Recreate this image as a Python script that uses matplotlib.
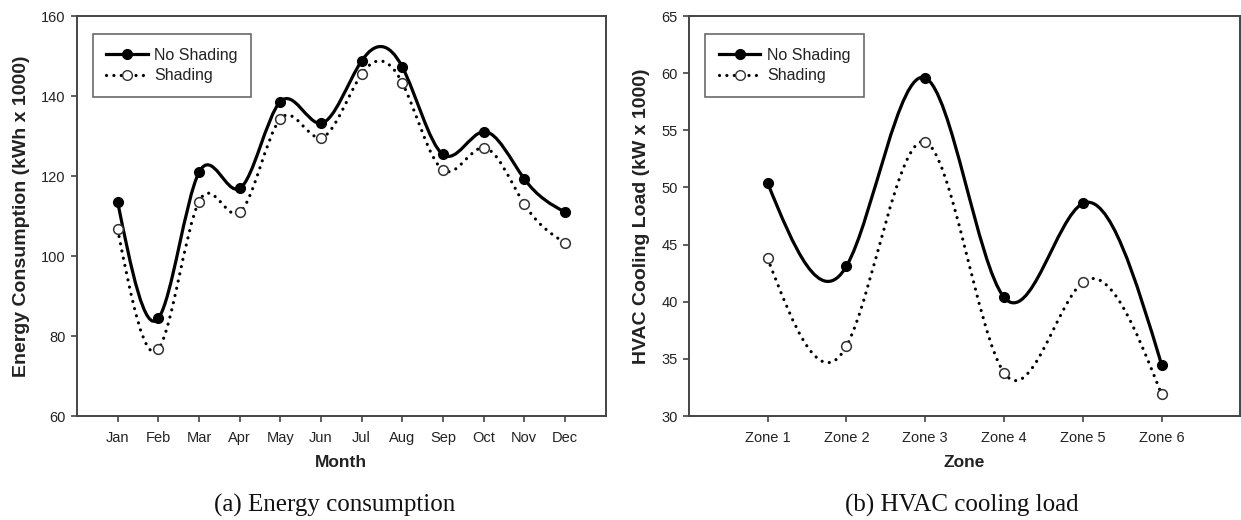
import numpy as np
import matplotlib
matplotlib.use("Agg")
import matplotlib.pyplot as plt
from matplotlib.path import Path
from matplotlib.patches import PathPatch
from matplotlib.lines import Line2D

# ============================================================
# Data
# ============================================================
months = ["Jan", "Feb", "Mar", "Apr", "May", "Jun",
          "Jul", "Aug", "Sep", "Oct", "Nov", "Dec"]
energy_no_shading = [113.6, 84.4, 120.9, 116.9, 138.6, 133.2,
                     148.8, 147.3, 125.4, 131.1, 119.3, 111.0]
energy_shading = [106.7, 76.7, 113.6, 110.9, 134.3, 129.6,
                  145.5, 143.3, 121.5, 127.1, 113.0, 103.3]

zones = ["Zone 1", "Zone 2", "Zone 3", "Zone 4", "Zone 5", "Zone 6"]
hvac_no_shading = [50.4, 43.1, 59.6, 40.4, 48.6, 34.5]
hvac_shading = [43.8, 36.1, 54.0, 33.8, 41.7, 31.9]

INK = "#222222"
SPINE = "#444444"
DOTS = (0, (0.01, 2.3))

plt.rcParams.update({
    "font.family": ["Liberation Sans", "DejaVu Sans"],
    "text.color": INK,
    "axes.labelcolor": INK,
    "xtick.color": SPINE,
    "ytick.color": SPINE,
    "xtick.labelcolor": INK,
    "ytick.labelcolor": INK,
})


# ------------------------------------------------------------
# Smooth curve through the points: natural cubic spline drawn
# as bezier segments (like the original plotting tool)
# ------------------------------------------------------------
def spline_path(x, y):
    x = np.asarray(x, float)
    y = np.asarray(y, float)
    n = len(x)
    h = np.diff(x)
    A = np.zeros((n, n))
    b = np.zeros(n)
    A[0, 0] = A[-1, -1] = 1.0
    for i in range(1, n - 1):
        A[i, i - 1] = h[i - 1]
        A[i, i] = 2 * (h[i - 1] + h[i])
        A[i, i + 1] = h[i]
        b[i] = 6 * ((y[i + 1] - y[i]) / h[i] - (y[i] - y[i - 1]) / h[i - 1])
    M = np.linalg.solve(A, b)
    m = np.zeros(n)
    for i in range(n - 1):
        m[i] = (y[i + 1] - y[i]) / h[i] - h[i] * (2 * M[i] + M[i + 1]) / 6
    m[-1] = (y[-1] - y[-2]) / h[-1] + h[-1] * (M[-2] + 2 * M[-1]) / 6

    verts = [(x[0], y[0])]
    codes = [Path.MOVETO]
    for i in range(n - 1):
        d = h[i] / 3
        verts += [(x[i] + d, y[i] + m[i] * d),
                  (x[i + 1] - d, y[i + 1] - m[i + 1] * d),
                  (x[i + 1], y[i + 1])]
        codes += [Path.CURVE4] * 3
    return Path(verts, codes)


def draw_panel(ax, labels, y_no, y_sh, ylim, yticks, xlabel, ylabel):
    x = np.arange(1, len(labels) + 1)

    ax.add_patch(PathPatch(spline_path(x, y_sh), fill=False, color="black",
                           lw=2.3, linestyle=DOTS, capstyle="round",
                           zorder=2))
    ax.add_patch(PathPatch(spline_path(x, y_no), fill=False, color="black",
                           lw=2.3, zorder=3))
    ax.plot(x, y_sh, "o", ms=7, mfc="white", mec="#333333", mew=1.1,
            linestyle="none", zorder=4)
    ax.plot(x, y_no, "o", ms=7, mfc="black", mec="black",
            linestyle="none", zorder=5)

    ax.set_xlim(0, len(labels) + 1)
    ax.set_ylim(*ylim)
    ax.set_xticks(x)
    ax.set_xticklabels(labels)
    ax.set_yticks(yticks)
    ax.tick_params(direction="out", length=4, width=1.2, labelsize=10.5,
                   pad=4)
    ax.tick_params(axis="x", pad=7)
    for sp in ax.spines.values():
        sp.set_color(SPINE)
        sp.set_linewidth(1.4)

    ax.set_xlabel(xlabel, fontsize=12.5, fontweight="bold", labelpad=7)
    ax.set_ylabel(ylabel, fontsize=14, fontweight="bold", labelpad=8)

    handles = [
        Line2D([], [], color="black", lw=2.3, marker="o", ms=7,
               mfc="black"),
        Line2D([], [], color="black", lw=2.3, linestyle=DOTS,
               dash_capstyle="round", marker="o", ms=7, mfc="white",
               mec="#333333"),
    ]
    leg = ax.legend(handles, ["No Shading", "Shading"], loc="upper left",
                    bbox_to_anchor=(0.03, 0.955), fontsize=11.5,
                    frameon=True, fancybox=False, edgecolor=SPINE,
                    handlelength=2.6, handletextpad=0.4,
                    borderpad=0.85, labelspacing=0.35, borderaxespad=0)
    leg.get_frame().set_linewidth(1.2)


# ============================================================
# Figure layout
# ============================================================
fig = plt.figure(figsize=(12.41, 5.20), dpi=100, facecolor="white")
ax1 = fig.add_axes([0.062, 0.200, 0.426, 0.769])
ax2 = fig.add_axes([0.555, 0.200, 0.4445, 0.769])

draw_panel(ax1, months, energy_no_shading, energy_shading,
           (60, 160), np.arange(60, 161, 20), "Month",
           "Energy Consumption (kWh x 1000)")
draw_panel(ax2, zones, hvac_no_shading, hvac_shading,
           (30, 65), np.arange(30, 66, 5), "Zone",
           "HVAC Cooling Load (kW x 1000)")

# captions under each panel
fig.text(0.270, 0.016, "(a) Energy consumption", ha="center",
         va="baseline", fontsize=18, family=["Liberation Serif"],
         color="#111111")
fig.text(0.775, 0.016, "(b) HVAC cooling load", ha="center",
         va="baseline", fontsize=18, family=["Liberation Serif"],
         color="#111111")

fig.savefig("out.png", dpi=100, facecolor="white")
